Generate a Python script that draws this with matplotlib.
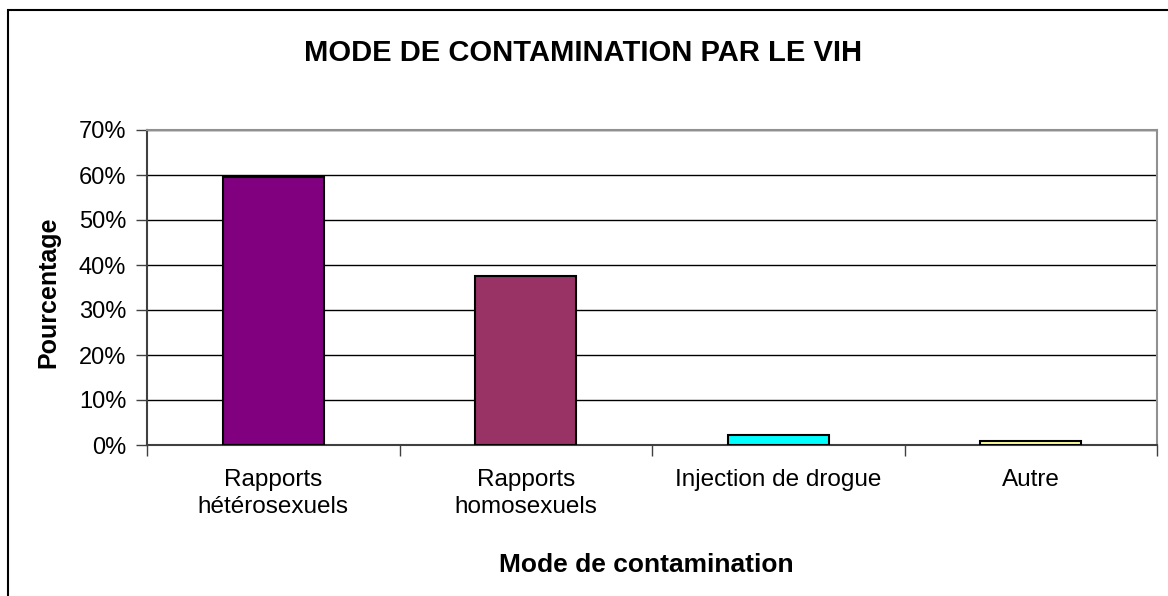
import matplotlib.pyplot as plt
from matplotlib.patches import Rectangle
from matplotlib.ticker import FixedLocator, PercentFormatter

plt.rcParams['font.family'] = ['Liberation Sans', 'DejaVu Sans']

##### DATA #####
categories = ['Rapports\nhétérosexuels', 'Rapports\nhomosexuels', 'Injection de drogue', 'Autre']
percent = [59.6, 37.5, 2.2, 0.8]
colors = ['#800080', '#993366', '#00FFFF', '#FFFF99']
yticks = [0, 10, 20, 30, 40, 50, 60, 70]

W, H = 1168, 596
fig = plt.figure(figsize=(W / 100, H / 100), dpi=100)

# plot area in pixels: left 147, right 1157, top 130, bottom 445
ax = fig.add_axes([147 / W, 1 - 445 / H, (1157 - 147) / W, (445 - 130) / H])

x = list(range(len(categories)))
ax.bar(x, percent, width=0.4, color=colors, edgecolor='black', linewidth=1.5, zorder=3)

ax.set_xlim(-0.5, len(categories) - 0.5)
ax.set_ylim(0, 70)
ax.set_yticks(yticks)
ax.yaxis.set_major_formatter(PercentFormatter(decimals=0))
ax.grid(axis='y', color='black', linewidth=1, zorder=0)

# ticks at category boundaries, labels at centres
ax.set_xticks(x)
ax.set_xticklabels(categories, fontsize=17.5, linespacing=1.3)
ax.xaxis.set_minor_locator(FixedLocator([i - 0.5 for i in range(len(categories) + 1)]))
ax.tick_params(axis='x', which='major', length=0, pad=17)
ax.tick_params(axis='x', which='minor', length=8, width=1, color='#404040', direction='out')
ax.tick_params(axis='y', length=8, width=1, color='#404040', direction='out', labelsize=17, pad=7)

for side in ['left', 'bottom']:
    ax.spines[side].set_color('#404040')
    ax.spines[side].set_linewidth(1.5)
for side in ['top', 'right']:
    ax.spines[side].set_color('#909090')
    ax.spines[side].set_linewidth(1.5)

# axis titles placed by pixel position
fig.text(646 / W, 1 - 565 / H, 'Mode de contamination', ha='center', va='center',
         fontsize=19, fontweight='bold')
fig.text(48 / W, 1 - 292 / H, 'Pourcentage', ha='center', va='center', rotation=90,
         fontsize=18, fontweight='bold')

fig.text(583 / W, 1 - 53 / H, 'MODE DE CONTAMINATION PAR LE VIH',
         ha='center', va='center', fontsize=21, fontweight='bold')

# chart border
fig.patches.append(Rectangle((8 / W, -0.05), 1.1, 1 - 10 / H + 0.05, transform=fig.transFigure,
                             fill=False, edgecolor='black', linewidth=1.5))

fig.savefig('out.png', dpi=100)
